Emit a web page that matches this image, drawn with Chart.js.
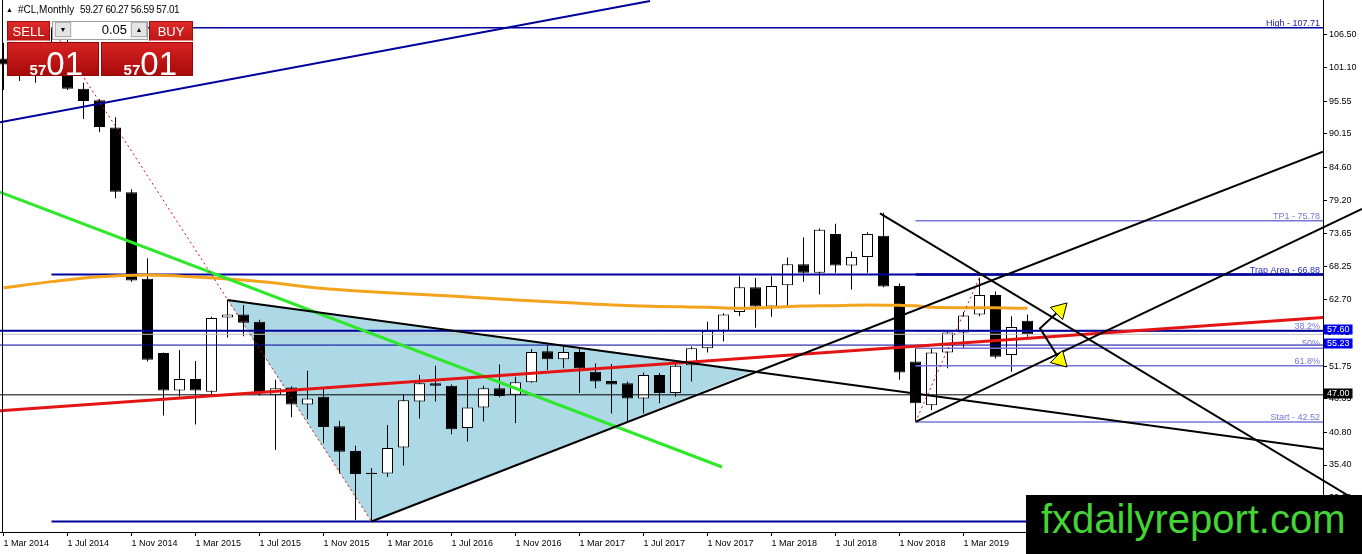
<!DOCTYPE html>
<html><head><meta charset="utf-8">
<script src="https://cdn.jsdelivr.net/npm/chart.js@4.4.1/dist/chart.umd.min.js"></script>
<style>
html,body{margin:0;padding:0;background:#fff;}
#wrap{position:relative;width:1362px;height:554px;overflow:hidden;font-family:'Liberation Sans',Arial,sans-serif;}
canvas{position:absolute;left:0;top:0;}
.abs{position:absolute;white-space:nowrap;}
.hdr{font-size:10px;line-height:10px;top:5px;color:#000;}
.rb{position:absolute;background:linear-gradient(#dc2a2a,#c01616);color:#fff;text-align:center;font-family:'Liberation Sans Narrow','Liberation Sans',Arial,sans-serif;font-size:13px;box-sizing:border-box;border:1px solid #a00c0c;border-bottom:1px solid #f08080;}
.spin{position:absolute;background:#f0f0f0;border:1px solid #a0a0a0;box-sizing:border-box;}
.sb{position:absolute;background:#e4e4e4;border:1px solid #b0b0b0;box-sizing:border-box;font-size:7px;line-height:13px;text-align:center;color:#000;}
.inp{position:absolute;background:#fff;box-sizing:border-box;font-size:13px;line-height:16px;text-align:right;padding-right:3px;color:#000;}
.pb{position:absolute;background:linear-gradient(#d82222,#a80a0a);box-sizing:border-box;border:1px solid #900808;color:#fff;display:flex;justify-content:flex-end;align-items:baseline;padding-right:15px;padding-top:4px;line-height:1;}
.pb .s{font-size:15px;font-weight:bold;}
.pb .b{font-size:33px;}
#wm{position:absolute;left:1026px;top:495px;width:336px;height:59px;background:#000;color:#44d436;font-size:40px;line-height:49px;padding-left:15px;box-sizing:border-box;white-space:nowrap;}
</style></head>
<body><div id="wrap">
<canvas id="c" width="1362" height="554"></canvas>
<div class="abs hdr" style="left:6px;font-size:7px;">&#9650;</div>
<div class="abs hdr" style="left:18px;">#CL,Monthly</div>
<div class="abs hdr" style="left:80px;letter-spacing:-0.4px;">59.27 60.27 56.59 57.01</div>
<div class="rb" style="left:7px;top:21px;width:43px;height:20px;line-height:19px;">SELL</div>
<div class="spin" style="left:52px;top:21px;width:96px;height:19px;"></div>
<div class="sb" style="left:55px;top:22px;width:16px;height:15px;">&#9660;</div>
<div class="inp" style="left:72px;top:22px;width:58px;height:17px;">0.05</div>
<div class="sb" style="left:131px;top:22px;width:16px;height:15px;">&#9650;</div>
<div class="rb" style="left:149px;top:21px;width:44px;height:20px;line-height:19px;">BUY</div>
<div class="pb" style="left:7px;top:42px;width:92px;height:34px;"><span class="s">57</span><span class="b">01</span></div>
<div class="pb" style="left:101px;top:42px;width:92px;height:34px;"><span class="s">57</span><span class="b">01</span></div>
<div id="wm">fxdailyreport.com</div>
</div>
<script>
// ---------- DATA ----------
const months = ['Mar 2014','Apr 2014','May 2014','Jun 2014','Jul 2014','Aug 2014','Sep 2014','Oct 2014','Nov 2014','Dec 2014',
 'Jan 2015','Feb 2015','Mar 2015','Apr 2015','May 2015','Jun 2015','Jul 2015','Aug 2015','Sep 2015','Oct 2015','Nov 2015','Dec 2015',
 'Jan 2016','Feb 2016','Mar 2016','Apr 2016','May 2016','Jun 2016','Jul 2016','Aug 2016','Sep 2016','Oct 2016','Nov 2016','Dec 2016',
 'Jan 2017','Feb 2017','Mar 2017','Apr 2017','May 2017','Jun 2017','Jul 2017','Aug 2017','Sep 2017','Oct 2017','Nov 2017','Dec 2017',
 'Jan 2018','Feb 2018','Mar 2018','Apr 2018','May 2018','Jun 2018','Jul 2018','Aug 2018','Sep 2018','Oct 2018','Nov 2018','Dec 2018',
 'Jan 2019','Feb 2019','Mar 2019','Apr 2019','May 2019','Jun 2019','Jul 2019'];
const opens = [102.6,101.6,99.7,102.7,105.4,97.6,95.7,91.2,80.5,66.2,
 53.9,47.7,49.6,47.5,59.8,60.3,59.1,47.0,48.2,45.4,46.7,41.8,
 37.7,33.9,34.0,38.3,45.9,48.9,48.5,41.5,44.9,48.1,47.0,49.1,
 54.2,52.9,54.1,50.8,49.3,48.9,46.4,50.3,47.3,51.9,54.7,57.6,
 60.7,64.8,61.6,65.1,68.6,67.2,73.6,68.4,69.8,73.3,65.0,52.5,
 45.3,54.0,57.3,60.3,63.5,53.6,59.27];
const highs = [105.2,105.0,104.5,107.71,105.8,98.6,95.9,92.9,81.0,69.6,
 54.0,54.4,52.6,59.9,62.7,61.85,59.4,49.5,48.4,51.0,48.2,42.7,
 38.6,34.9,42.0,47.0,50.3,51.8,48.7,49.5,48.5,52.0,50.0,54.6,
 55.2,55.0,54.6,52.2,52.1,49.2,50.7,50.6,52.2,55.0,59.1,60.5,
 66.6,66.3,66.6,69.7,73.0,74.5,75.3,70.7,73.9,77.1,65.4,54.7,
 54.7,57.5,60.7,66.4,64.1,60.0,60.27];
const lows = [97.4,98.9,98.6,101.5,97.4,92.6,90.4,79.5,65.7,52.5,
 43.6,46.7,42.1,47.1,56.5,56.7,46.9,37.9,43.3,43.0,39.0,34.0,
 26.3,26.05,33.4,35.3,43.1,45.9,40.5,39.3,42.6,46.6,42.3,49.0,
 51.1,51.4,47.3,48.1,43.9,42.5,43.9,45.6,46.7,49.2,54.0,55.8,
 60.0,58.1,59.9,61.7,65.7,63.6,67.2,64.4,67.2,64.8,49.5,42.52,
 44.5,51.4,54.6,60.0,53.0,50.8,56.59];
const closes = [101.6,99.7,102.7,105.4,97.6,95.6,91.3,80.6,65.9,52.8,
 47.7,49.6,47.7,59.7,60.3,58.9,47.4,48.1,45.4,46.4,41.7,37.6,
 33.9,34.1,38.2,46.1,48.9,48.5,41.3,44.9,48.1,46.8,49.1,54.1,
 52.9,54.1,51.4,49.2,48.7,46.4,50.3,47.3,51.8,54.7,57.6,60.3,
 64.8,61.6,65.0,68.6,67.2,74.3,68.4,69.8,73.6,64.9,50.7,45.6,
 54.0,57.3,60.1,63.5,53.3,58.2,57.01];

// moving average (orange) read at sampled months
const maMonths = [0,3,6,9,12,16,20,24,28,32,36,40,44,46,48,50,52,54,56,57,58,60,62,64];
const maValues = [64.7,65.72,66.53,66.8,66.47,65.74,64.58,63.87,63.33,62.68,62.14,61.69,61.47,61.31,61.47,61.69,61.74,61.86,61.8,61.74,61.47,61.41,61.39,61.31];

const xTickMonths = [0,4,8,12,16,20,24,28,32,36,40,44,48,52,56,60];
const xTickLabels = ['1 Mar 2014','1 Jul 2014','1 Nov 2014','1 Mar 2015','1 Jul 2015','1 Nov 2015','1 Mar 2016','1 Jul 2016',
 '1 Nov 2016','1 Mar 2017','1 Jul 2017','1 Nov 2017','1 Mar 2018','1 Jul 2018','1 Nov 2018','1 Mar 2019'];
const yTickValues = [106.50,101.10,95.55,90.15,84.60,79.20,73.65,68.25,62.70,51.75,46.35,40.80,35.40,30.00];

// drawn objects: [monthIndex, price]
const navyTrend = [[-0.22,92.06],[40.41,112.12]];
const greenTrend = [[-0.22,80.52],[44.91,35.07]];
const redTrend = [[-0.22,44.38],[82.47,59.77]];
const triangleLower = [[13.99,62.68],[23.0,26.05],[46.97,51.02]];
const triangleUpper = [[13.99,62.68],[46.97,51.02]];
const triTopEdge = [[13.99,62.68],[82.47,38.05]];
const triBottomEdge = [[23.0,26.05],[82.47,87.2]];
const fallingLine = [[54.78,77.02],[84.91,28.95]];
const channelLower = [[57.0,42.52],[84.91,77.74]];
const fibDiagBig = [[3,107.71],[23,26.05]];
const fibDiagSmall = [[57,42.52],[61,66.4]];
const arrowPath = [[66.03,61.03],[64.78,58.0],[66.03,52.76]];
const arrowHeads = [[66.03,61.03],[66.03,52.76]];
const arrowRot = [45,135];

const fullLevels = [57.60,55.23,57.01,47.00];
const bigFibStart = 3, bigFibLevels = [107.71,66.88,26.05], bigFibLabels = ['High - 107.71','','Low - 26.05'];
const smallFibStart = 57, smallFibLevels = [75.78,66.88,57.57,54.70,51.83,42.52];
const smallFibLabels = ['TP1 - 75.78','Trap Area - 66.88','38.2%','50%','61.8%','Start - 42.52'];
const axisMarks = [57.01,57.60,55.23,47.00];

// ---------- SCALE RANGE ----------
const X_MIN = -0.21875, X_MAX = 82.46875, Y_MIN = 24.322, Y_MAX = 112.285;
const NAVY = '#00009c', SLATE = '#7676da';

const pts = a => a.map(p => ({x:p[0], y:p[1]}));
const lineDs = (data, color, width, order, extra) => Object.assign({type:'line', data:pts(data), borderColor:color, borderWidth:width,
  pointRadius:0, fill:false, tension:0, order:order}, extra || {});

const datasets = [];
datasets.push(lineDs(triangleLower, 'rgba(0,0,0,0)', 0, 100, {fill:{target:1}, backgroundColor:'#add8e6'}));
datasets.push(lineDs(triangleUpper, 'rgba(0,0,0,0)', 0, 100));
datasets.push({type:'bar', order:60, grouped:false, barThickness:1, inflateAmount:0, borderWidth:0, backgroundColor:'#000',
  data: months.map((m,i)=>({x:i, y:[lows[i], highs[i]]}))});
datasets.push({type:'bar', order:59, grouped:false, barThickness:11, inflateAmount:0, borderWidth:1, borderSkipped:false, borderColor:'#000',
  backgroundColor: months.map((m,i)=> closes[i] >= opens[i] ? '#ffffff' : '#000000'),
  data: months.map((m,i)=>({x:i, y:[Math.min(opens[i],closes[i]), Math.max(opens[i],closes[i])]}))});
const fullStyles = [[NAVY,2],[NAVY,1],['#c0c0c0',1],['#000',1]];
fullLevels.forEach((v,k)=> datasets.push(lineDs([[X_MIN,v],[X_MAX,v]], fullStyles[k][0], fullStyles[k][1], 30)));
const bigW = [1.5,2,2];
bigFibLevels.forEach((v,k)=> datasets.push(lineDs([[bigFibStart,v],[X_MAX,v]], NAVY, bigW[k], 29)));
smallFibLevels.forEach((v,k)=> datasets.push(lineDs([[smallFibStart,v],[X_MAX,v]], k===1 ? NAVY : SLATE, k===1 ? 2.5 : 1.5, 31)));
datasets.push({type:'line', order:25, data: maMonths.map((m,k)=>({x:m, y:maValues[k]})), borderColor:'#f5a31c', borderWidth:3,
  pointRadius:0, fill:false, cubicInterpolationMode:'monotone'});
datasets.push(lineDs(redTrend, '#e41414', 3, 20));
datasets.push(lineDs(greenTrend, '#2ee82a', 3, 20));
datasets.push(lineDs(navyTrend, NAVY, 2, 18));
datasets.push(lineDs(triTopEdge, '#000', 2, 15));
datasets.push(lineDs(triBottomEdge, '#000', 2, 15));
datasets.push(lineDs(fallingLine, '#000', 2, 15, {clip:false}));
datasets.push(lineDs(channelLower, '#000', 2, 15, {clip:false}));
datasets.push(lineDs(fibDiagBig, '#d01010', 1, 14, {borderDash:[2,3]}));
datasets.push(lineDs(fibDiagSmall, '#d01010', 1, 14, {borderDash:[2,3]}));
datasets.push(lineDs(arrowPath, '#000', 2, 10));
datasets.push({type:'line', order:5, showLine:false, data:pts(arrowHeads), pointStyle:'triangle', pointRotation:arrowRot,
  pointRadius:10, pointBackgroundColor:'#ffff00', pointBorderColor:'#000', pointBorderWidth:1});

const annot = {
  id:'annot',
  afterDatasetsDraw(chart){
    const {ctx, chartArea:a, scales:{y}} = chart;
    ctx.save();
    ctx.font = '9px "Liberation Sans"';
    ctx.textAlign = 'right'; ctx.textBaseline = 'alphabetic';
    bigFibLevels.forEach((v,k)=>{ if(!bigFibLabels[k]) return; ctx.fillStyle = '#1a1a9c'; ctx.fillText(bigFibLabels[k], a.right-3, y.getPixelForValue(v)-2); });
    smallFibLevels.forEach((v,k)=>{ ctx.fillStyle = k===1 ? '#2c2cc8' : SLATE; ctx.fillText(smallFibLabels[k], a.right-3, y.getPixelForValue(v)-2); });
    ctx.restore();
  },
  afterDraw(chart){
    const {ctx, chartArea:a, scales:{y}} = chart;
    ctx.save();
    ctx.strokeStyle = '#000'; ctx.lineWidth = 1;
    ctx.beginPath(); ctx.moveTo(2.5, a.top); ctx.lineTo(2.5, a.bottom); ctx.stroke();
    ctx.font = '9px "Liberation Sans"'; ctx.textAlign = 'left'; ctx.textBaseline = 'middle';
    const bgs = [null,'#0000ee','#0000ee','#000'];
    axisMarks.forEach((v,k)=>{
      const py = Math.round(y.getPixelForValue(v));
      const t = v.toFixed(2);
      if (bgs[k]) { ctx.fillStyle = bgs[k]; ctx.fillRect(a.right+1, py-6.5, ctx.measureText(t).width+6, 10); ctx.fillStyle = '#fff'; }
      else ctx.fillStyle = '#000';
      ctx.fillText(t, a.right+4, py-1.5);
    });
    ctx.restore();
  }
};

Chart.defaults.font.family = '"Liberation Sans", Arial, sans-serif';
Chart.defaults.font.size = 9;
Chart.defaults.color = '#000';

new Chart(document.getElementById('c'), {
  type:'line',
  data:{datasets},
  plugins:[annot],
  options:{
    responsive:false, animation:false, events:[],
    layout:{padding:0, autoPadding:false},
    plugins:{legend:{display:false}, tooltip:{enabled:false}},
    scales:{
      x:{type:'linear', min:X_MIN, max:X_MAX, offset:false, bounds:'data',
        grid:{display:true, drawOnChartArea:false, drawTicks:true, tickLength:4, color:'#000', offset:false},
        border:{display:true, color:'#000', width:1},
        ticks:{autoSkip:false, maxRotation:0, minRotation:0, align:'start', padding:2, color:'#000',
          callback:(v)=>{ const k = xTickMonths.indexOf(v); return k>=0 ? xTickLabels[k] : ''; }},
        afterBuildTicks:(s)=>{ s.ticks = xTickMonths.map(v=>({value:v})); },
        afterFit:(s)=>{ s.height = 22; s.paddingLeft = 0; s.paddingRight = 0; }
      },
      y:{type:'linear', position:'right', min:Y_MIN, max:Y_MAX, bounds:'data',
        grid:{display:true, drawOnChartArea:false, drawTicks:true, tickLength:4, color:'#000'},
        border:{display:true, color:'#000', width:1},
        ticks:{padding:2, color:'#000', callback:(v)=>Number(v).toFixed(2)},
        afterBuildTicks:(s)=>{ s.ticks = yTickValues.map(v=>({value:v})); },
        afterFit:(s)=>{ s.width = 39; s.paddingTop = 0; s.paddingBottom = 0; }
      }
    }
  }
});
</script>
</body></html>
